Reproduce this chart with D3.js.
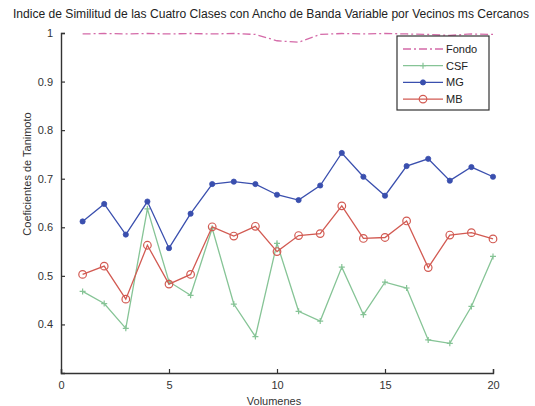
<!DOCTYPE html>
<html>
<head>
<meta charset="utf-8">
<script src="https://cdn.jsdelivr.net/npm/d3@7/dist/d3.min.js"></script>
<style>
  html, body { margin: 0; padding: 0; background: #fff; }
  svg { display: block; font-family: "Liberation Sans", Arial, sans-serif; }
</style>
</head>
<body>
<svg id="chart" width="535" height="406"></svg>
<script>
// Volume index 1..20
const volumes = d3.range(1, 21);

// Tanimoto coefficients per class
const fondo = [0.998, 0.999, 0.998, 0.999, 0.998, 0.999, 0.998, 0.999, 0.997, 0.984,
               0.981, 0.997, 0.999, 0.998, 0.999, 0.998, 0.997, 0.995, 0.998, 0.997];
const csf   = [0.468, 0.443, 0.392, 0.638, 0.488, 0.460, 0.598, 0.442, 0.375, 0.567,
               0.427, 0.407, 0.518, 0.420, 0.487, 0.475, 0.368, 0.361, 0.437, 0.540];
const mg    = [0.612, 0.648, 0.585, 0.653, 0.557, 0.628, 0.689, 0.694, 0.689, 0.667,
               0.656, 0.686, 0.753, 0.704, 0.665, 0.726, 0.741, 0.696, 0.724, 0.704];
const mb    = [0.503, 0.520, 0.452, 0.563, 0.483, 0.503, 0.601, 0.582, 0.602, 0.550,
               0.583, 0.587, 0.644, 0.577, 0.579, 0.613, 0.517, 0.584, 0.589, 0.576];

const xTicks = [0, 5, 10, 15, 20];
const yTicks = [0.4, 0.5, 0.6, 0.7, 0.8, 0.9, 1];

const titleText = "Indice de Similitud de las Cuatro Clases con Ancho de Banda Variable por Vecinos ms Cercanos";
const xLabel = "Volumenes";
const yLabel = "Coeficientes de Tanimoto";

const series = [
  { name: "Fondo", values: fondo, color: "#d46aa8", dash: "8,3,2,3", marker: "none" },
  { name: "CSF",   values: csf,   color: "#86c496", dash: null,      marker: "plus" },
  { name: "MG",    values: mg,    color: "#3a4fae", dash: null,      marker: "dot" },
  { name: "MB",    values: mb,    color: "#d25a52", dash: null,      marker: "circle" }
];

const svg = d3.select("#chart");
const plotLeft = 61, plotRight = 493, plotTop = 33, plotBottom = 373;

const x = d3.scaleLinear().domain([0, 20]).range([plotLeft, plotRight]);
const y = d3.scaleLinear().domain([0.3, 1]).range([plotBottom, plotTop]);

// Title
svg.append("text")
  .attr("x", 271).attr("y", 18)
  .attr("text-anchor", "middle")
  .attr("font-size", 12)
  .attr("textLength", 516)
  .attr("lengthAdjust", "spacingAndGlyphs")
  .attr("fill", "#222")
  .text(titleText);

// Axes (left and bottom only, ticks pointing inward)
const xAxis = svg.append("g")
  .attr("transform", `translate(0,${plotBottom})`)
  .call(d3.axisBottom(x).tickValues(xTicks).tickSizeInner(-4).tickSizeOuter(-4).tickPadding(8));
const yAxis = svg.append("g")
  .attr("transform", `translate(${plotLeft},0)`)
  .call(d3.axisLeft(y).tickValues(yTicks).tickSizeInner(-4).tickSizeOuter(-4).tickPadding(8)
        .tickFormat(d => d === 1 ? "1" : d3.format(".1f")(d)));

[xAxis, yAxis].forEach(g => {
  g.select(".domain").attr("stroke", "#333").attr("stroke-width", 1.4);
  g.selectAll(".tick line").attr("stroke", "#333").attr("stroke-width", 1.2);
  g.selectAll(".tick text").attr("font-size", 11).attr("fill", "#333")
    .attr("font-family", "Liberation Sans, Arial, sans-serif");
});

// Axis labels
svg.append("text")
  .attr("x", 274).attr("y", 405)
  .attr("text-anchor", "middle")
  .attr("font-size", 11).attr("fill", "#333")
  .text(xLabel);
svg.append("text")
  .attr("transform", "translate(31,174) rotate(-90)")
  .attr("text-anchor", "middle")
  .attr("font-size", 11).attr("fill", "#333")
  .text(yLabel);

const line = d3.line().x((d, i) => x(volumes[i])).y(d => y(d));

function drawMarker(g, type, cx, cy, color) {
  if (type === "dot") {
    g.append("circle").attr("cx", cx).attr("cy", cy).attr("r", 2.6)
      .attr("fill", color).attr("stroke", color).attr("stroke-width", 0.8);
  } else if (type === "circle") {
    g.append("circle").attr("cx", cx).attr("cy", cy).attr("r", 3.8)
      .attr("fill", "none").attr("stroke", color).attr("stroke-width", 1.2);
  } else if (type === "plus") {
    g.append("path").attr("d", `M${cx - 3},${cy}H${cx + 3}M${cx},${cy - 3}V${cy + 3}`)
      .attr("stroke", color).attr("stroke-width", 1.2);
  }
}

const plot = svg.append("g");
series.forEach(s => {
  plot.append("path")
    .datum(s.values)
    .attr("d", line)
    .attr("fill", "none")
    .attr("stroke", s.color)
    .attr("stroke-width", 1.3)
    .attr("stroke-dasharray", s.dash);
  const markers = plot.append("g");
  s.values.forEach((v, i) => drawMarker(markers, s.marker, x(volumes[i]), y(v), s.color));
});

// Legend
const legend = svg.append("g");
legend.append("rect")
  .attr("x", 397).attr("y", 36).attr("width", 92).attr("height", 74)
  .attr("fill", "#fff").attr("stroke", "#333").attr("stroke-width", 1.2);
series.forEach((s, i) => {
  const ly = 49 + i * 16.7;
  legend.append("line")
    .attr("x1", 403).attr("x2", 443).attr("y1", ly).attr("y2", ly)
    .attr("stroke", s.color).attr("stroke-width", 1.3)
    .attr("stroke-dasharray", s.dash);
  drawMarker(legend, s.marker, 423, ly, s.color);
  legend.append("text")
    .attr("x", 446).attr("y", ly + 4)
    .attr("font-size", 11).attr("fill", "#222")
    .text(s.name);
});
</script>
</body>
</html>
